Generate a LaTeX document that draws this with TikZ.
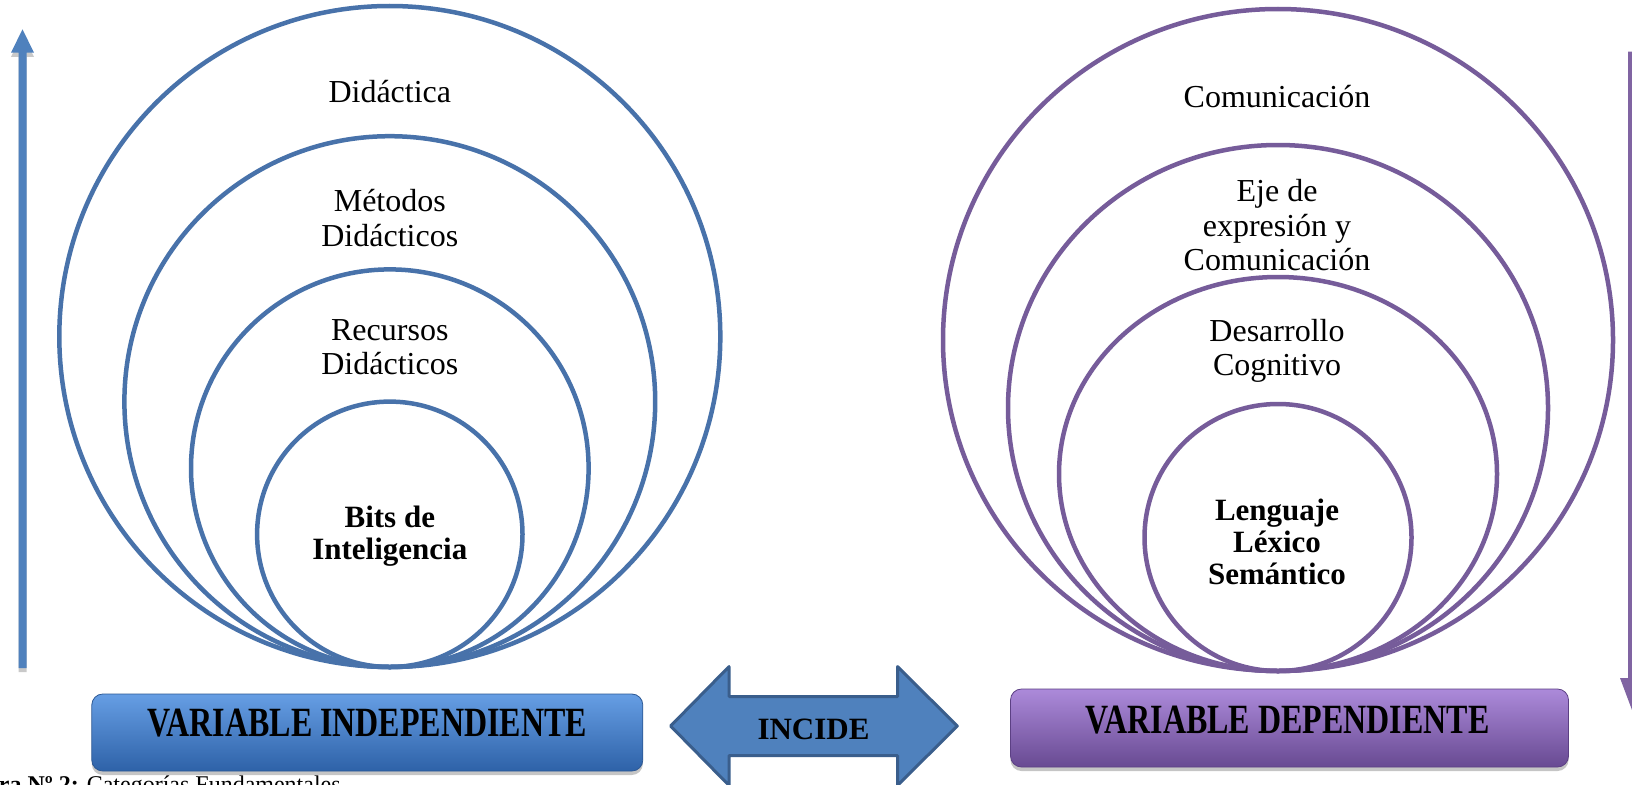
\documentclass[tikz,border=0pt]{standalone}
\usepackage{fontspec}
\setmainfont{Liberation Serif}
\usetikzlibrary{shadows}
\definecolor{cblue}{RGB}{72,114,170}
\definecolor{cpurple}{RGB}{118,92,154}
\definecolor{ablue}{RGB}{79,129,189}
\definecolor{ablueborder}{RGB}{58,94,140}
\definecolor{apurple}{RGB}{128,100,162}
\begin{document}
\begin{tikzpicture}[x=1pt,y=-1pt,
  ring/.style={line width=4.5pt},
  lbl/.style={font=\fontsize{32}{34.5}\selectfont, align=center, inner sep=0pt},
  blbl/.style={font=\fontsize{31}{32}\selectfont\bfseries, align=center, inner sep=0pt},
  varbox/.style={rounded corners=11pt, inner sep=0pt, line width=0.8pt,
    drop shadow={opacity=0.45, shadow xshift=0pt, shadow yshift=-4pt}},
  boxtxt/.style={font=\fontsize{32}{34}\selectfont\bfseries, inner sep=0pt},
  vshadow/.style={fill=black!35, opacity=0.6}
]
\useasboundingbox (0,0) rectangle (1632,784);
\fill[white] (0,0) rectangle (1632,784);

% ---- left nested circles
\draw[ring, cblue] (389.8,336.5) circle [radius=330.5];
\draw[ring, cblue] (389.8,401.6) circle [radius=265.4];
\draw[ring, cblue] (389.8,468.2) circle [radius=198.8];
\draw[ring, cblue] (389.8,534.3) circle [radius=132.7];

\node[lbl] (didactica) at (389.8,91.6) {Didáctica};
\node[lbl] (metodos) at (389.8,218) {Métodos\\Didácticos};
\node[lbl] (recursos) at (389.8,347) {Recursos\\Didácticos};
\node[blbl] (bits) at (389.8,536) {Bits de\\Inteligencia};

% ---- right nested circles
\draw[ring, cpurple] (1278,340) ellipse [x radius=335, y radius=331];
\draw[ring, cpurple] (1278,408) ellipse [x radius=270, y radius=263];
\draw[ring, cpurple] (1278,474) ellipse [x radius=219, y radius=197];
\draw[ring, cpurple] (1278,537.5) circle [radius=133.5];

\node[lbl] (comunic) at (1277,96.8) {Comunicación};
\node[lbl] (eje) at (1277,225.5) {Eje de\\expresión y\\Comunicación};
\node[lbl] (desarrollo) at (1277,351) {Desarrollo\\Cognitivo};
\node[blbl] (lenguaje) at (1277,542) {Lenguaje\\Léxico\\Semántico};

% ---- vertical arrows
\fill[vshadow] (18.5,672) -- (18.5,57) -- (11,57) -- (22.5,33) -- (34,57) -- (26.5,57) -- (26.5,672) -- cycle;
\fill[ablue] (18.5,668) -- (18.5,52.7) -- (11,52.7) -- (22.5,29.3) -- (34,52.7) -- (26.5,52.7) -- (26.5,668) -- cycle;

\fill[apurple] (1628,51.7) -- (1628,678) -- (1620,678) -- (1632,710) -- (1644,678) -- (1636,678) -- (1636,51.7) -- cycle;

% ---- variable boxes
\node[varbox, minimum width=551pt, minimum height=77pt,
  top color={rgb,255:red,102;green,158;blue,228}, bottom color={rgb,255:red,46;green,98;blue,168},
  draw={rgb,255:red,44;green,88;blue,148}] (vind) at (367.3,732.5) {};
\node[boxtxt] (vindtxt) at (367.3,723) {\scalebox{1}[1.3]{VARIABLE INDEPENDIENTE}};

\node[varbox, minimum width=558pt, minimum height=78pt,
  top color={rgb,255:red,172;green,138;blue,218}, bottom color={rgb,255:red,104;green,74;blue,146},
  draw={rgb,255:red,92;green,64;blue,132}] (vdep) at (1289.5,728) {};
\node[boxtxt] (vdeptxt) at (1287.5,720) {\scalebox{1}[1.3]{VARIABLE DEPENDIENTE}};

% ---- double arrow INCIDE
\filldraw[fill=ablue, draw=ablueborder, line width=3pt, line join=round]
  (670.6,726) -- (729,666.6) -- (729,696.5) -- (897.5,696.5) -- (897.5,666.6)
  -- (957.3,726) -- (897.5,785.4) -- (897.5,755.6) -- (729,755.6) -- (729,785.4) -- cycle;
\node[font=\fontsize{31}{34}\selectfont\bfseries, inner sep=0pt] (incide) at (813.5,729) {INCIDE};

% ---- caption (cut off by the page, as in the reference)
\begin{scope}
\clip (0,0) rectangle (1632,784);
\node[anchor=base west, font=\fontsize{24}{28}\selectfont, inner sep=0pt] (caption) at (-48,792)
  {\textbf{Figura Nº 2:} Categorías Fundamentales};
\end{scope}
\end{tikzpicture}
\end{document}
